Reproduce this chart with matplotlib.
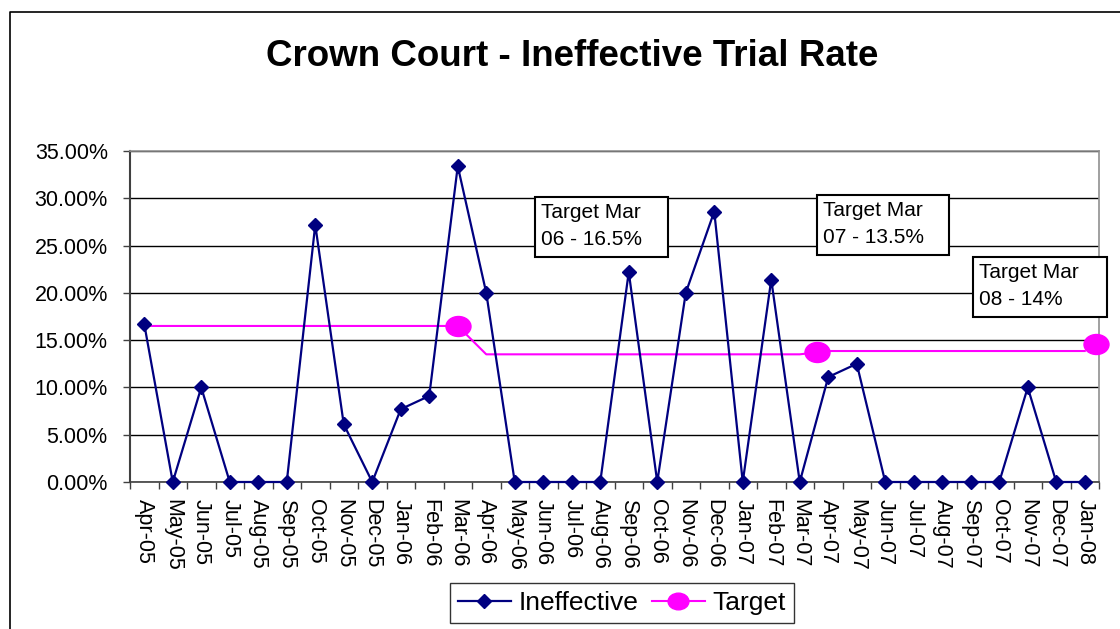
import matplotlib
matplotlib.use("Agg")
import matplotlib.pyplot as plt
from matplotlib.lines import Line2D
from matplotlib.patches import Rectangle
from matplotlib.path import Path
from matplotlib.transforms import Affine2D
from matplotlib.ticker import FuncFormatter, MultipleLocator
import numpy as np

plt.rcParams["font.family"] = ["Liberation Sans", "DejaVu Sans"]

# Data
months = ["Apr-05", "May-05", "Jun-05", "Jul-05", "Aug-05", "Sep-05", "Oct-05",
          "Nov-05", "Dec-05", "Jan-06", "Feb-06", "Mar-06", "Apr-06", "May-06",
          "Jun-06", "Jul-06", "Aug-06", "Sep-06", "Oct-06", "Nov-06", "Dec-06",
          "Jan-07", "Feb-07", "Mar-07", "Apr-07", "May-07", "Jun-07", "Jul-07",
          "Aug-07", "Sep-07", "Oct-07", "Nov-07", "Dec-07", "Jan-08"]
ineffective = [0.167, 0.0, 0.10, 0.0, 0.0, 0.0, 0.272, 0.061, 0.0, 0.077, 0.091,
               0.334, 0.20, 0.0, 0.0, 0.0, 0.0, 0.222, 0.0, 0.20, 0.286, 0.0,
               0.214, 0.0, 0.111, 0.125, 0.0, 0.0, 0.0, 0.0, 0.0, 0.10, 0.0, 0.0]
target = [0.165] * 12 + [0.135] * 12 + [0.1385] * 10
# target markers as placed on the original chart (category position, value)
target_marker_pos = [11, 23.6, 33.4]
target_marker_val = [0.165, 0.137, 0.146]

notes = ["Target Mar\n06 - 16.5%", "Target Mar\n07 - 13.5%", "Target Mar\n08 - 14%"]

W, H = 1120, 629
fig = plt.figure(figsize=(W / 100, H / 100), dpi=100)

# outer chart border (left and top edges only are visible)
fig.add_artist(Line2D([10 / W, 10 / W, 1.0], [0.0, 1 - 12 / H, 1 - 12 / H],
                      transform=fig.transFigure, color="black", lw=1.2))

fig.text(572 / W, 1 - 66 / H, "Crown Court - Ineffective Trial Rate",
         ha="center", va="baseline", fontsize=26.5, fontweight="bold")

ax = fig.add_axes([130 / W, 1 - 482 / H, 969 / W, 331 / H])
x = np.arange(len(months))

ax.grid(axis="y", color="black", lw=1.0, zorder=1)
ax.set_axisbelow(True)

ax.plot(x, ineffective, color="#000080", lw=1.6, marker="D", markersize=7.5,
        zorder=3, label="Ineffective", clip_on=False)

ellipse = Path.unit_circle().transformed(Affine2D().scale(1.25, 1.0))
ax.plot(x, target, color="#FF00FF", lw=1.5, zorder=2, clip_on=False)
ax.plot(target_marker_pos, target_marker_val, ls="none", marker=ellipse,
        markersize=18, color="#FF00FF", zorder=4, clip_on=False)
ax.plot([], [], color="#FF00FF", lw=1.5, marker=ellipse, markersize=15,
        label="Target")

ax.set_xlim(-0.5, len(months) - 0.5)
ax.set_ylim(0, 0.35)
ax.yaxis.set_major_locator(MultipleLocator(0.05))
ax.yaxis.set_major_formatter(FuncFormatter(lambda v, p: f"{v * 100:.2f}%"))
ax.set_xticks(x)
ax.set_xticklabels(months, rotation=-90, ha="center", va="top")
ax.set_xticks(np.arange(len(months) + 1) - 0.5, minor=True)
ax.tick_params(axis="x", which="major", length=0, pad=12, labelsize=15.5)
ax.tick_params(axis="x", which="minor", length=5, width=1, color="#404040", direction="out")
ax.tick_params(axis="y", length=5, width=1, color="#404040", pad=11, labelsize=15.5)

for side in ["top", "right"]:
    ax.spines[side].set_color("#909090")
    ax.spines[side].set_linewidth(1.2)
ax.spines["left"].set_color("#404040")
ax.spines["left"].set_linewidth(1.5)
ax.spines["bottom"].set_color("#404040")
ax.spines["bottom"].set_linewidth(1.2)

# text boxes (axes fraction: left, bottom, width, height)
boxes = [(0.418, 0.680, 0.137, 0.181), (0.709, 0.686, 0.136, 0.181),
         (0.870, 0.4985, 0.138, 0.181)]
for (bx, by, bw, bh), note in zip(boxes, notes):
    ax.add_patch(Rectangle((bx, by), bw, bh, transform=ax.transAxes, facecolor="white",
                           edgecolor="black", lw=1.5, zorder=5, clip_on=False))
    ax.text(bx + 0.006, by + bh - 0.018, note, transform=ax.transAxes, ha="left", va="top",
            fontsize=15, linespacing=1.55, zorder=6)

leg = ax.legend(loc="center", bbox_to_anchor=(622 / W, 1 - 603 / H),
                bbox_transform=fig.transFigure, ncol=2, fontsize=19, frameon=True,
                fancybox=False, edgecolor="black", handlelength=2.0,
                handletextpad=0.3, columnspacing=0.5, borderpad=0.3)
leg.get_frame().set_linewidth(1.0)

fig.savefig("out.png", dpi=100, facecolor="white")
